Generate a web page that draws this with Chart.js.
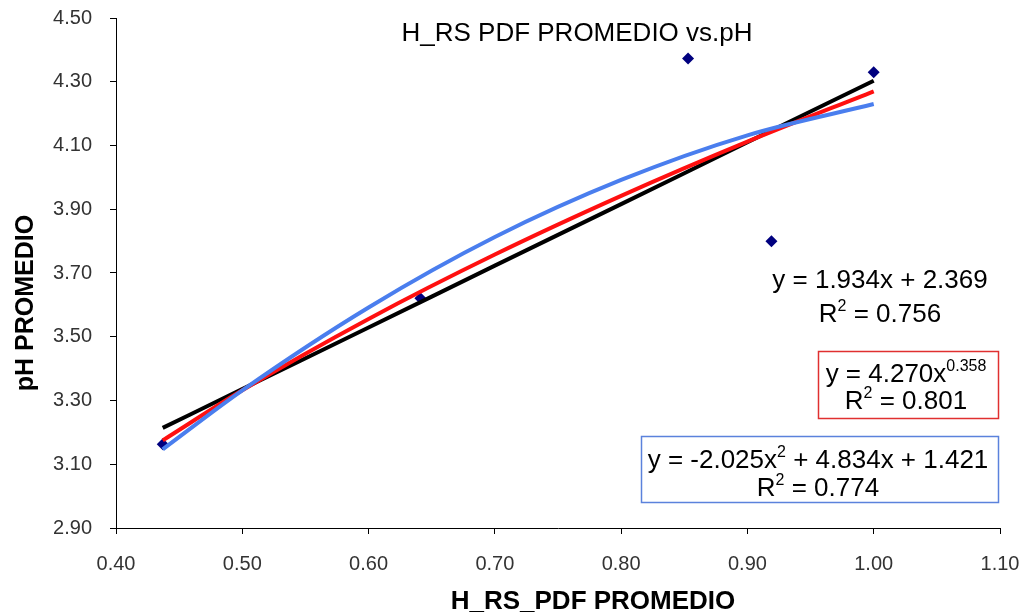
<!DOCTYPE html>
<html>
<head>
<meta charset="utf-8">
<script src="https://cdn.jsdelivr.net/npm/chart.js@4.4.1/dist/chart.umd.min.js"></script>
<style>
  html, body { margin: 0; padding: 0; background: #fff; }
  #wrap { width: 1023px; height: 614px; }
</style>
</head>
<body>
<div id="wrap"><canvas id="phChart" width="1023" height="614"></canvas></div>
<script>
// Measured points (H_RS_PDF PROMEDIO vs pH PROMEDIO)
var pdfX = [0.437, 0.641, 0.853, 0.919, 1.000];
var phY = [3.163, 3.621, 4.373, 3.800, 4.330];

// Trendlines
var fitX = [0.437, 0.50, 0.60, 0.70, 0.80, 0.90, 1.00];
var linearY = [3.214, 3.336, 3.529, 3.723, 3.916, 4.110, 4.303];
var powerY = [3.175, 3.332, 3.556, 3.758, 3.942, 4.112, 4.270];
var polyY = [3.147, 3.332, 3.592, 3.813, 3.992, 4.132, 4.230];

// Axis ticks
var xTicks = [0.40, 0.50, 0.60, 0.70, 0.80, 0.90, 1.00, 1.10];
var yTicks = [2.90, 3.10, 3.30, 3.50, 3.70, 3.90, 4.10, 4.30, 4.50];

var FONT = '"Liberation Sans", Arial, sans-serif';

function toPoints(xs, ys) {
    return xs.map((x, i) => ({ x: x, y: ys[i] }));
}

// Draw a line of text made of normal / superscript parts, centred on cx
function drawRich(ctx, parts, cx, baseline, size) {
    var supSize = Math.round(size * 0.6);
    var total = 0;
    parts.forEach(p => {
        ctx.font = (p[1] ? supSize : size) + 'px ' + FONT;
        total += ctx.measureText(p[0]).width;
    });
    var x = cx - total / 2;
    ctx.textAlign = 'left';
    ctx.textBaseline = 'alphabetic';
    parts.forEach(p => {
        ctx.font = (p[1] ? supSize : size) + 'px ' + FONT;
        ctx.fillText(p[0], x, p[1] ? baseline - size * 0.42 : baseline);
        x += ctx.measureText(p[0]).width;
    });
}

// Title, axis titles and trendline equations
var annotations = {
    id: 'annotations',
    afterDraw(chart) {
        var ctx = chart.ctx;
        ctx.save();
        ctx.fillStyle = '#000';

        ctx.font = '26px ' + FONT;
        ctx.textAlign = 'center';
        ctx.textBaseline = 'alphabetic';
        ctx.fillText('H_RS PDF PROMEDIO vs.pH', 577, 41);

        ctx.font = 'bold 26px ' + FONT;
        ctx.fillText('H_RS_PDF PROMEDIO', 593, 609);

        ctx.save();
        ctx.translate(33, 303);
        ctx.rotate(-Math.PI / 2);
        ctx.font = 'bold 25px ' + FONT;
        ctx.fillText('pH PROMEDIO', 0, 0);
        ctx.restore();

        // linear
        drawRich(ctx, [['y = 1.934x + 2.369', false]], 880, 288, 26);
        drawRich(ctx, [['R', false], ['2', true], [' = 0.756', false]], 880, 322, 26);

        // power
        ctx.strokeStyle = '#e03030';
        ctx.lineWidth = 1.5;
        ctx.strokeRect(818.5, 351.5, 180, 67);
        drawRich(ctx, [['y = 4.270x', false], ['0.358', true]], 906, 382, 26);
        drawRich(ctx, [['R', false], ['2', true], [' = 0.801', false]], 906, 409, 26);

        // polynomial
        ctx.strokeStyle = '#5b82dc';
        ctx.strokeRect(641.5, 436.5, 357, 66);
        drawRich(ctx, [['y = -2.025x', false], ['2', true], [' + 4.834x + 1.421', false]], 818, 468, 26);
        drawRich(ctx, [['R', false], ['2', true], [' = 0.774', false]], 818, 496, 26);

        ctx.restore();
    }
};

function generateChart() {
    var ctx = document.getElementById('phChart').getContext('2d');

    var lineStyle = {
        showLine: true,
        pointRadius: 0,
        pointHoverRadius: 0,
        borderWidth: 4,
        fill: false,
        cubicInterpolationMode: 'monotone'
    };

    new Chart(ctx, {
        type: 'scatter',
        data: {
            datasets: [
                Object.assign({
                    label: 'Polinómica',
                    data: toPoints(fitX, polyY),
                    borderColor: '#4a7eee',
                    order: 1
                }, lineStyle),
                Object.assign({
                    label: 'Potencial',
                    data: toPoints(fitX, powerY),
                    borderColor: '#ff1010',
                    order: 2
                }, lineStyle),
                Object.assign({
                    label: 'Lineal',
                    data: toPoints(fitX, linearY),
                    borderColor: '#000000',
                    order: 3
                }, lineStyle),
                {
                    label: 'pH PROMEDIO',
                    data: toPoints(pdfX, phY),
                    pointStyle: 'rectRot',
                    pointRadius: 6,
                    backgroundColor: '#00007f',
                    borderColor: '#00007f',
                    borderWidth: 0,
                    order: 4
                }
            ]
        },
        options: {
            responsive: false,
            animation: false,
            devicePixelRatio: 1,
            layout: { padding: 0 },
            plugins: {
                legend: { display: false },
                tooltip: { enabled: false },
                title: { display: false }
            },
            scales: {
                x: {
                    type: 'linear',
                    min: 0.4,
                    max: 1.1,
                    afterBuildTicks: scale => { scale.ticks = xTicks.map(v => ({ value: v })); },
                    afterFit: scale => {
                        scale.height = 86;
                        scale.paddingLeft = 0;
                        scale.paddingRight = 23;
                    },
                    border: { color: '#000', width: 1 },
                    grid: { drawOnChartArea: false, color: '#000', tickLength: 6 },
                    ticks: {
                        padding: 18,
                        color: '#333',
                        font: { family: FONT, size: 20 },
                        callback: v => v.toFixed(2)
                    }
                },
                y: {
                    type: 'linear',
                    min: 2.9,
                    max: 4.5,
                    afterBuildTicks: scale => { scale.ticks = yTicks.map(v => ({ value: v })); },
                    afterFit: scale => {
                        scale.width = 116;
                        scale.paddingTop = 18;
                        scale.paddingBottom = 0;
                    },
                    border: { color: '#000', width: 1 },
                    grid: { drawOnChartArea: false, color: '#000', tickLength: 6 },
                    ticks: {
                        padding: 18,
                        color: '#333',
                        font: { family: FONT, size: 20 },
                        callback: v => v.toFixed(2)
                    }
                }
            }
        },
        plugins: [annotations]
    });
}

generateChart();
</script>
</body>
</html>
